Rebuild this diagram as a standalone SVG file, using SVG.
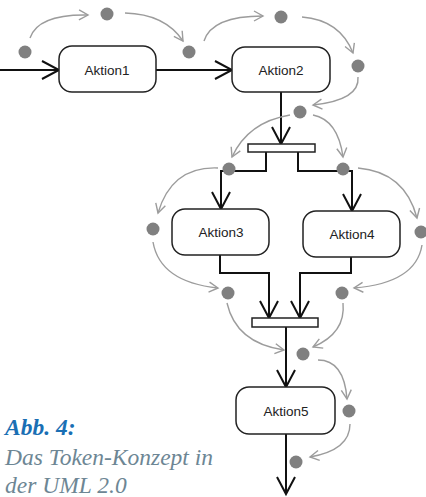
<svg xmlns="http://www.w3.org/2000/svg" width="426" height="497" viewBox="0 0 426 497">
  <defs>
    <style>
      .flow { fill: none; stroke: #111; stroke-width: 2; marker-end: url(#arrowBlack); }
      .plain { fill: none; stroke: #111; stroke-width: 2; }
      .box { fill: #fff; stroke: #222; stroke-width: 1.5; }
      .bar { fill: #fff; stroke: #222; stroke-width: 1.5; }
      .label { font-family: "Liberation Sans", Arial, sans-serif; font-size: 13.5px; fill: #222; text-anchor: middle; }
      .tok { fill: #808080; }
      .move { fill: none; stroke: #9c9c9c; stroke-width: 1.4; marker-end: url(#arrowGray); }
      .capHead { font-family: "Liberation Serif", "Times New Roman", serif; font-style: italic; font-weight: bold; font-size: 23.5px; fill: #1a6fb4; }
      .capText { font-family: "Liberation Serif", "Times New Roman", serif; font-style: italic; font-size: 23.5px; fill: #6d8694; }
    </style>
    <marker id="arrowBlack" markerUnits="userSpaceOnUse" markerWidth="22" markerHeight="22" viewBox="0 0 22 22" refX="19" refY="11" orient="auto">
      <path d="M2,2 L19,11 L2,20" fill="none" stroke="#111" stroke-width="2"/>
    </marker>
    <marker id="arrowGray" markerUnits="userSpaceOnUse" markerWidth="14" markerHeight="14" viewBox="0 0 14 14" refX="11" refY="7" orient="auto">
      <path d="M2,2 L11,7 L2,12" fill="none" stroke="#9c9c9c" stroke-width="1.4"/>
    </marker>
  </defs>

  <!-- control flow edges -->
  <g id="connectors">
    <path class="flow" d="M0,70 L59,70"/>
    <path class="flow" d="M156,70 L232,70"/>
    <path class="flow" d="M281,92 L281,144"/>
    <path class="flow" d="M266,152 L266,171 L221,171 L221,209"/>
    <path class="flow" d="M298,152 L298,171 L352,171 L352,211"/>
    <path class="flow" d="M220,255 L220,273 L269,273 L269,318"/>
    <path class="flow" d="M351,257 L351,273 L300,273 L300,318"/>
    <path class="flow" d="M286,327 L286,387"/>
    <path class="flow" d="M286,434 L286,494"/>
  </g>

  <!-- actions -->
  <g id="aktion1">
    <rect class="box" x="59" y="46" width="97" height="46" rx="13"/>
    <text class="label" x="107" y="75">Aktion1</text>
  </g>
  <g id="aktion2">
    <rect class="box" x="232" y="47" width="98" height="45" rx="13"/>
    <text class="label" x="281" y="75">Aktion2</text>
  </g>
  <g id="fork">
    <rect class="bar" x="248" y="144" width="67" height="8"/>
  </g>
  <g id="aktion3">
    <rect class="box" x="172" y="209" width="97" height="46" rx="13"/>
    <text class="label" x="221" y="237">Aktion3</text>
  </g>
  <g id="aktion4">
    <rect class="box" x="303" y="211" width="97" height="46" rx="13"/>
    <text class="label" x="352" y="239">Aktion4</text>
  </g>
  <g id="join">
    <rect class="bar" x="252" y="318" width="66" height="9"/>
  </g>
  <g id="aktion5">
    <rect class="box" x="236" y="387" width="99" height="47" rx="13"/>
    <text class="label" x="286" y="416">Aktion5</text>
  </g>

  <!-- token movements -->
  <g id="token-paths">
    <path class="move" d="M30,38 Q38,14 88,15"/>
    <path class="move" d="M125,13 Q165,14 183,41"/>
    <path class="move" d="M204,41 Q212,16 263,16"/>
    <path class="move" d="M302,17 Q340,20 353,53"/>
    <path class="move" d="M358,77 Q360,100 313,105"/>
    <path class="move" d="M290,115 Q248,122 232,157"/>
    <path class="move" d="M313,115 Q338,120 343,157"/>
    <path class="move" d="M218,168 Q172,166 158,213"/>
    <path class="move" d="M153,242 Q160,282 218,288"/>
    <path class="move" d="M358,168 Q405,172 417,218"/>
    <path class="move" d="M422,245 Q416,283 354,288"/>
    <path class="move" d="M227,303 Q236,343 284,350"/>
    <path class="move" d="M343,303 Q346,333 313,347"/>
    <path class="move" d="M318,360 Q344,360 347,399"/>
    <path class="move" d="M350,424 Q350,450 310,457"/>
  </g>

  <!-- tokens -->
  <g id="tokens">
    <circle class="tok" cx="25" cy="52" r="6.5"/>
    <circle class="tok" cx="107" cy="14" r="6.5"/>
    <circle class="tok" cx="189" cy="52" r="6.5"/>
    <circle class="tok" cx="281" cy="17" r="6.5"/>
    <circle class="tok" cx="358" cy="66" r="6.5"/>
    <circle class="tok" cx="300" cy="112" r="6.5"/>
    <circle class="tok" cx="229" cy="169" r="6.5"/>
    <circle class="tok" cx="343" cy="169" r="6.5"/>
    <circle class="tok" cx="153" cy="229" r="6.5"/>
    <circle class="tok" cx="421" cy="232" r="6.5"/>
    <circle class="tok" cx="228" cy="293" r="6.5"/>
    <circle class="tok" cx="342" cy="293" r="6.5"/>
    <circle class="tok" cx="303" cy="354" r="6.5"/>
    <circle class="tok" cx="349" cy="411" r="6.5"/>
    <circle class="tok" cx="296" cy="462" r="6.5"/>
  </g>

  <!-- caption -->
  <g id="caption">
    <text class="capHead" x="5" y="435">Abb. 4:</text>
    <text class="capText" x="5" y="465">Das Token-Konzept in</text>
    <text class="capText" x="5" y="493">der UML 2.0</text>
  </g>
</svg>
